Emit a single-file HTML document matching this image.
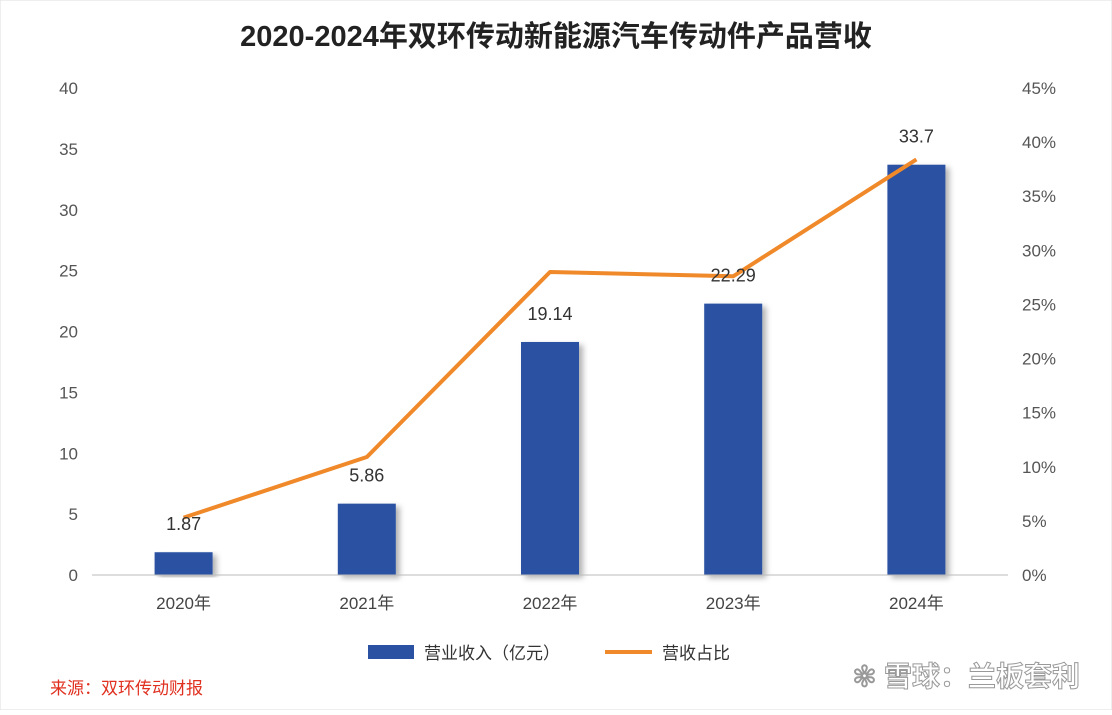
<!DOCTYPE html>
<html><head><meta charset="utf-8">
<style>
body{margin:0;width:1112px;height:710px;background:#fff;overflow:hidden;font-family:"Liberation Sans","Noto Sans CJK SC",sans-serif;}
svg text{font-family:"Liberation Sans","Noto Sans CJK SC",sans-serif;}
</style></head>
<body>
<svg id="chart" width="1112" height="710">
<defs><filter id="sh" x="-20%" y="-5%" width="150%" height="115%"><feDropShadow dx="4" dy="3" stdDeviation="3" flood-color="#000" flood-opacity="0.3"/></filter></defs>
<rect x="0" y="0" width="1112" height="710" fill="#fff" stroke="#ddd"/>
<text x="556" y="46" text-anchor="middle" font-size="29" font-weight="bold" fill="#222">2020-2024年双环传动新能源汽车传动件产品营收</text>
<g id="g"></g>
<line x1="92" y1="575" x2="1008" y2="575" stroke="#bbb"/>
<rect x="368" y="645" width="46" height="14" fill="#2a51a2"/>
<text x="424" y="659" font-size="17" fill="#333">营业收入（亿元）</text>
<line x1="605" y1="652" x2="652" y2="652" stroke="#f0892a" stroke-width="4"/>
<text x="662" y="659" font-size="17" fill="#333">营收占比</text>
<text x="50" y="694" font-size="17" fill="#e03020">来源：双环传动财报</text>
<text x="1080" y="686" text-anchor="end" font-size="28" font-weight="bold" fill="#fff" stroke="#999" stroke-width="1">✻ 雪球：兰板套利</text>
</svg>
<script>
const categories=["2020年","2021年","2022年","2023年","2024年"];
const revenue=[1.87,5.86,19.14,22.29,33.7];
const revenueLabels=["1.87","5.86","19.14","22.29","33.7"];
const share=[5.3,10.9,28.0,27.6,38.4];
const leftTicks=[0,5,10,15,20,25,30,35,40];
const rightTicks=[0,5,10,15,20,25,30,35,40,45];
const NS="http://www.w3.org/2000/svg",g=document.getElementById('g');
const x0=92,x1=1008,yb=575,yt=88;
const yL=v=>yb-(v/40)*(yb-yt), yR=v=>yb-(v/45)*(yb-yt);
const bw=(x1-x0)/categories.length, xc=i=>x0+bw*(i+0.5);
function mk(t,a,txt){const e=document.createElementNS(NS,t);for(const k in a)e.setAttribute(k,a[k]);if(txt!=null)e.textContent=txt;g.appendChild(e);return e;}
leftTicks.forEach(v=>{const e=mk('text',{x:78,y:yL(v)+6,'text-anchor':'end','font-size':17,fill:'#555'},v);

});
rightTicks.forEach(v=>{const e=mk('text',{x:1022,y:yR(v)+6,'font-size':17,fill:'#555'},v+'%');

});
categories.forEach((c,i)=>{
const b=mk('rect',{x:xc(i)-29,y:yL(revenue[i]),width:58,height:yb-yL(revenue[i]),fill:'#2a51a2',filter:'url(#sh)'});


const l=mk('text',{x:xc(i),y:yL(revenue[i])-22,'text-anchor':'middle','font-size':18,fill:'#333'},revenueLabels[i]);


const t=mk('text',{x:xc(i),y:609,'text-anchor':'middle','font-size':17,fill:'#444'},c);


});
const pl=mk('polyline',{points:share.map((v,i)=>xc(i)+','+yR(v)).join(' '),fill:'none',stroke:'#f0892a','stroke-width':4,'stroke-linejoin':'round'});


// move labels on top
[...g.querySelectorAll('text')].forEach(t=>g.appendChild(t));
</script>
</body></html>
